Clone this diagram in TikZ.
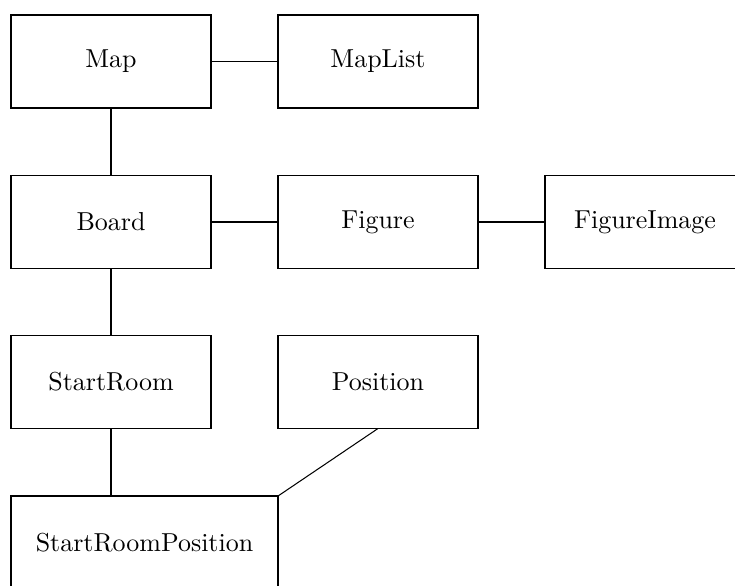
\documentclass[tikz,border=0pt]{standalone}
\begin{document}
\begin{tikzpicture}[x=0.385pt,y=-0.385pt,
  box/.style={draw, rectangle, inner sep=0pt, outer sep=0pt, minimum width=77pt, minimum height=35.8pt},
  widebox/.style={box, minimum width=102.8pt},
  link/.style={draw}]
\useasboundingbox (0,0) rectangle (735,585);
\clip (0,0) rectangle (735,585);
\node[box] (map) at (111,61.5) {Map};
\node[box] (maplist) at (378,61.5) {MapList};
\node[box] (board) at (111,222) {Board};
\node[box] (figure) at (378,222) {Figure};
\node[box] (figimg) at (645,222) {FigureImage};
\node[box] (startroom) at (111,382) {StartRoom};
\node[box] (position) at (378,382) {Position};
\node[widebox] (srp) at (144.5,542.5) {StartRoomPosition};
\draw[link] (map.east) -- (maplist.west);
\draw[link] (map.south) -- (board.north);
\draw[link] (board.east) -- (figure.west);
\draw[link] (figure.east) -- (figimg.west);
\draw[link] (board.south) -- (startroom.north);
\draw[link] (startroom.south) -- (startroom.south |- srp.north);
\draw[link] (position.south) -- (srp.north east);
\end{tikzpicture}
\end{document}
